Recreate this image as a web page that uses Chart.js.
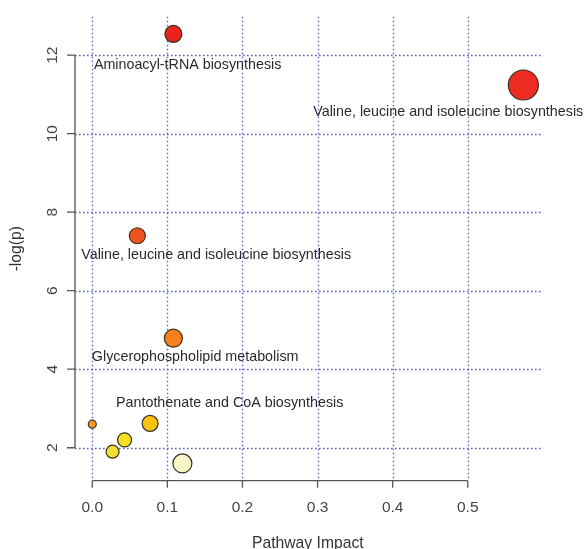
<!DOCTYPE html>
<html>
<head>
<meta charset="utf-8">
<script src="https://cdn.jsdelivr.net/npm/chart.js@4/dist/chart.umd.min.js"></script>
<style>
  html, body { margin: 0; padding: 0; background: #fff; }
  #wrap { width: 585px; height: 549px; }
</style>
</head>
<body>
<div id="wrap"><canvas id="pathwayPlot" width="585" height="549"></canvas></div>
<script>
// pathway analysis values
const pathways = [
  "Aminoacyl-tRNA biosynthesis",
  "Valine, leucine and isoleucine biosynthesis",
  "Valine, leucine and isoleucine biosynthesis",
  "Glycerophospholipid metabolism",
  "Pantothenate and CoA biosynthesis",
  "", "", "", ""
];
const impact = [0.108, 0.574, 0.060, 0.108, 0.077, 0.000, 0.043, 0.027, 0.120];
const logP = [12.54, 11.24, 7.40, 4.79, 2.62, 2.60, 2.20, 1.90, 1.60];

const xTicks = [0.0, 0.1, 0.2, 0.3, 0.4, 0.5];
const yTicks = [2, 4, 6, 8, 10, 12];

// where each pathway name sits, in data units
const labelX = [0.127, 0.474, 0.165, 0.137, 0.183];
const labelY = [11.75, 10.55, 6.91, 4.31, 3.13];

// bubble look
const fills = ["#e8231e", "#ee2b22", "#f0521f", "#f5801e", "#fac30e", "#f09a20", "#f6e01e", "#f2e133", "#f8f5c8"];
const radii = [8.5, 15, 8, 9, 8, 4, 7, 6.5, 9.5];

const FONT = '"Liberation Sans", Arial, sans-serif';

const rPlot = {
  id: 'rPlot',
  beforeDatasetsDraw(chart) {
    const ctx = chart.ctx;
    const area = chart.chartArea;
    const x = chart.scales.x;
    const y = chart.scales.y;
    ctx.save();
    // dotted grid
    ctx.strokeStyle = '#5565cc';
    ctx.lineWidth = 1.4;
    ctx.setLineDash([1.6, 2.4]);
    xTicks.forEach(v => {
      const px = Math.round(x.getPixelForValue(v)) + 0.5;
      ctx.beginPath();
      ctx.moveTo(px, area.top);
      ctx.lineTo(px, area.bottom);
      ctx.stroke();
    });
    yTicks.forEach(v => {
      const py = Math.round(y.getPixelForValue(v)) + 0.5;
      ctx.beginPath();
      ctx.moveTo(area.left, py);
      ctx.lineTo(area.right, py);
      ctx.stroke();
    });
    ctx.setLineDash([]);

    // axes like R: line only across the ticks
    ctx.strokeStyle = '#555';
    ctx.lineWidth = 1.3;
    const x0 = x.getPixelForValue(xTicks[0]);
    const x1 = x.getPixelForValue(xTicks[xTicks.length - 1]);
    const by = area.bottom;
    ctx.beginPath();
    ctx.moveTo(x0, by);
    ctx.lineTo(x1, by);
    xTicks.forEach(v => {
      const px = x.getPixelForValue(v);
      ctx.moveTo(px, by);
      ctx.lineTo(px, by + 7);
    });
    const y0 = y.getPixelForValue(yTicks[0]);
    const y1 = y.getPixelForValue(yTicks[yTicks.length - 1]);
    const lx = area.left;
    ctx.moveTo(lx, y0);
    ctx.lineTo(lx, y1);
    yTicks.forEach(v => {
      const py = y.getPixelForValue(v);
      ctx.moveTo(lx, py);
      ctx.lineTo(lx - 8, py);
    });
    ctx.stroke();

    // tick labels
    ctx.fillStyle = '#444';
    ctx.font = '15.5px ' + FONT;
    ctx.textAlign = 'center';
    ctx.textBaseline = 'middle';
    xTicks.forEach(v => {
      ctx.fillText(v.toFixed(1), x.getPixelForValue(v), by + 27.5);
    });
    yTicks.forEach(v => {
      ctx.save();
      ctx.translate(lx - 22, y.getPixelForValue(v));
      ctx.rotate(-Math.PI / 2);
      ctx.fillText(String(v), 0, 0);
      ctx.restore();
    });

    // axis titles
    ctx.fillStyle = '#333';
    ctx.font = '15.7px ' + FONT;
    ctx.fillText('Pathway Impact', (area.left + area.right) / 2, by + 63);
    ctx.save();
    ctx.translate(17, (area.top + area.bottom) / 2);
    ctx.rotate(-Math.PI / 2);
    ctx.fillText('-log(p)', 0, 0);
    ctx.restore();
    ctx.restore();
  },
  afterDatasetsDraw(chart) {
    const ctx = chart.ctx;
    const x = chart.scales.x;
    const y = chart.scales.y;
    ctx.save();
    ctx.fillStyle = '#2a2a2a';
    ctx.font = '14.3px ' + FONT;
    ctx.textAlign = 'center';
    ctx.textBaseline = 'middle';
    labelX.forEach((lv, i) => {
      ctx.fillText(pathways[i], x.getPixelForValue(lv), y.getPixelForValue(labelY[i]));
    });
    ctx.restore();
  }
};

new Chart(document.getElementById('pathwayPlot'), {
  type: 'scatter',
  data: {
    datasets: [{
      data: impact.map((v, i) => ({ x: v, y: logP[i] })),
      pointRadius: radii,
      pointHoverRadius: radii,
      pointBackgroundColor: fills,
      pointBorderColor: '#3a3020',
      pointBorderWidth: 1.2,
      clip: false
    }]
  },
  options: {
    responsive: false,
    animation: false,
    devicePixelRatio: 1,
    layout: { padding: { left: 75, right: 44.4, top: 16.7, bottom: 68.3 } },
    plugins: { legend: { display: false }, tooltip: { enabled: false } },
    scales: {
      x: { type: 'linear', min: -0.023, max: 0.597, display: false },
      y: { type: 'linear', min: 1.16, max: 12.98, display: false }
    }
  },
  plugins: [rPlot]
});
</script>
</body>
</html>
